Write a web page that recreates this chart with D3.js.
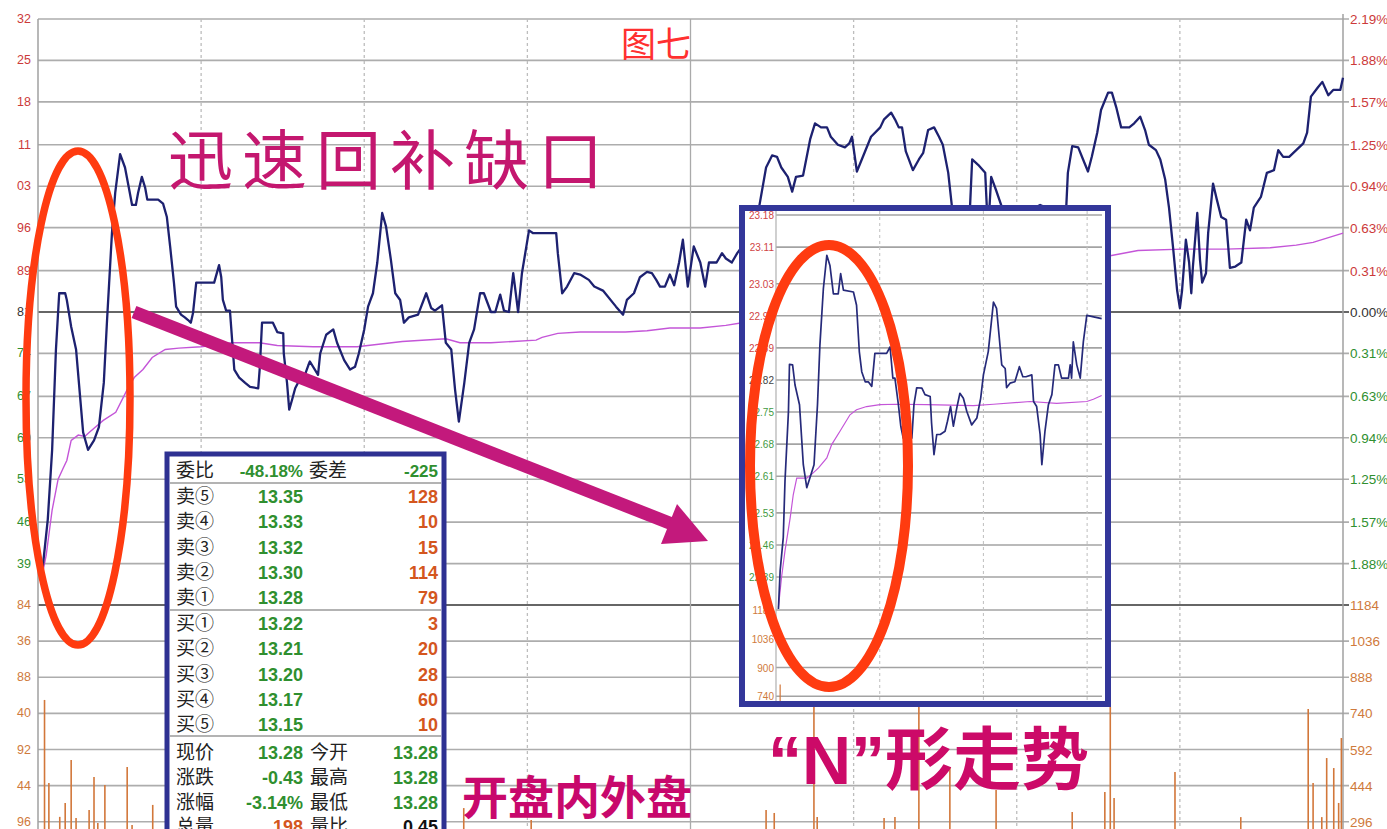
<!DOCTYPE html>
<html>
<head>
<meta charset="utf-8">
<script src="https://cdn.jsdelivr.net/npm/d3@7"></script>
<style>
  html, body { margin: 0; padding: 0; background: #fff; overflow: hidden; }
  svg { display: block; }
  text { font-family: "Liberation Sans", "Noto Sans CJK SC", sans-serif; }
  .cjk { font-family: "Noto Sans CJK SC", sans-serif; }
</style>
</head>
<body>
<svg width="1387" height="829"></svg>
<script>
// ---- chart data (minute of session, % change vs previous close) ----
var priceSeries = [
  [0.6,-2.00],[1.1,-1.82],[1.8,-1.55],[2.6,-1.03],[3.3,-0.28],[3.9,0.14],[5.0,0.14],[5.3,0.09],[6.1,-0.11],[7.0,-0.28],
  [8.3,-0.90],[9.2,-1.03],[10.3,-0.96],[11.2,-0.86],[12.1,-0.53],[12.7,-0.06],[13.6,0.59],[14.2,0.89],[15.1,1.18],[16.0,1.08],
  [16.7,0.93],[17.3,0.80],[18.0,0.80],[18.4,0.89],[19.1,1.01],[19.7,0.93],[20.1,0.84],[22.1,0.84],[23.0,0.81],[23.7,0.71],
  [24.3,0.49],[25.0,0.22],[25.4,0.04],[26.3,-0.02],[27.0,-0.04],[27.6,-0.06],[28.1,-0.08],[28.5,-0.01],[29.1,0.22],[32.4,0.22],
  [33.3,0.35],[33.7,0.26],[34.0,0.09],[34.6,0.01],[35.3,0.01],[35.7,-0.21],[36.1,-0.43],[37.0,-0.49],[38.1,-0.53],[39.0,-0.56],
  [40.5,-0.57],[40.8,-0.41],[41.2,-0.08],[43.2,-0.08],[44.0,-0.15],[45.1,-0.16],[45.2,-0.31],[45.8,-0.53],[46.2,-0.73],[46.7,-0.66],
  [47.3,-0.57],[47.8,-0.53],[48.9,-0.49],[49.7,-0.40],[50.0,-0.37],[51.5,-0.47],[51.9,-0.31],[53.0,-0.17],[54.3,-0.13],[55.0,-0.23],
  [56.3,-0.36],[57.4,-0.43],[58.3,-0.41],[59.0,-0.31],[60.0,-0.13],[60.7,0.04],[61.6,0.14],[62.4,0.37],[63.3,0.74],[64.0,0.64],
  [64.9,0.39],[65.7,0.14],[66.6,0.09],[67.3,-0.08],[68.2,-0.04],[69.9,-0.02],[71.4,0.14],[72.3,0.03],[73.0,0.01],[74.3,0.05],
  [75.0,-0.23],[76.0,-0.28],[76.7,-0.58],[77.4,-0.82],[78.4,-0.53],[79.3,-0.23],[80.2,-0.13],[81.3,0.14],[82.0,0.14],[83.3,0.00],
  [84.1,0.00],[85.0,0.13],[85.7,0.01],[86.6,0.00],[87.4,0.29],[88.3,0.00],[89.0,0.29],[90.3,0.61],[91.0,0.59],[95.3,0.59],
  [95.6,0.44],[96.4,0.14],[97.3,0.19],[98.6,0.29],[99.7,0.28],[101.3,0.24],[102.3,0.19],[103.9,0.16],[106.3,0.04],[107.6,-0.02],
  [108.3,0.09],[109.6,0.14],[110.7,0.26],[112.0,0.30],[112.9,0.29],[113.7,0.24],[114.4,0.19],[115.3,0.19],[116.2,0.28],[117.0,0.20],
  [117.9,0.37],[118.6,0.54],[119.5,0.19],[120.6,0.49],[121.8,0.37],
  [122.7,0.19],[123.4,0.37],[124.8,0.37],[125.8,0.44],[126.5,0.40],[127.6,0.37],[128.6,0.44],[129.5,0.49],[130.9,0.58],[132.6,0.78],
  [133.9,1.08],[135.0,1.17],[135.9,1.16],[136.7,1.08],[137.9,1.01],[138.7,0.90],[139.4,1.01],[140.7,1.02],[142.0,1.29],[142.9,1.41],
  [144.0,1.38],[145.1,1.38],[145.8,1.31],[147.1,1.25],[148.4,1.23],[149.2,1.26],[149.7,1.31],[150.6,1.05],[151.5,1.14],[153.2,1.31],
  [154.9,1.38],[155.6,1.44],[156.9,1.49],[157.6,1.44],[158.3,1.38],[158.9,1.38],[159.6,1.20],[160.9,1.06],[162.0,1.14],[162.8,1.19],
  [163.7,1.36],[164.8,1.38],[165.7,1.31],[166.4,1.25],[167.4,1.04],[168.1,0.78],[169.6,0.61],[171.4,0.78],[171.8,1.14],[172.9,1.10],
  [174.2,1.04],[174.5,0.78],[174.9,0.72],[175.3,1.01],[176.2,0.91],[177.3,0.78],[178.8,0.67],[182.4,0.76],[184.3,0.80],[185.4,0.78],
  [187.0,0.72],[189.1,0.78],[189.4,1.04],[190.2,1.24],[191.3,1.23],[192.2,1.14],[193.1,1.05],[193.8,1.16],[194.8,1.34],[195.5,1.51],
  [196.8,1.64],[197.5,1.64],[198.3,1.53],[199.2,1.38],[200.7,1.38],[201.6,1.41],[202.7,1.46],[203.6,1.36],[204.3,1.25],[205.6,1.21],
  [206.4,1.14],[207.3,0.99],[208.0,0.78],[208.8,0.46],[209.5,0.16],[210.0,0.03],[210.4,0.16],[210.8,0.37],[211.1,0.54],[211.7,0.37],
  [212.1,0.14],[212.4,0.34],[212.8,0.54],[213.2,0.74],[213.7,0.39],[214.1,0.22],[214.8,0.29],[215.2,0.59],[216.1,0.96],[216.8,0.84],
  [217.6,0.71],[218.5,0.69],[219.2,0.33],[220.2,0.34],[221.3,0.37],[222.2,0.69],[222.9,0.61],[223.6,0.78],[224.9,0.86],[226.0,1.04],
  [227.3,1.06],[228.1,1.21],[229.0,1.16],[230.1,1.16],[231.4,1.21],[232.7,1.26],[233.4,1.34],[234.1,1.61],[235.4,1.68],[236.2,1.72],
  [237.3,1.62],[238.2,1.66],[239.5,1.66],[240,1.75]
];
var avgSeries = [
  [0.6,-2.00],[1.5,-1.82],[2.6,-1.48],[3.7,-1.25],[4.6,-1.17],[5.3,-1.11],[6.1,-0.96],[7.4,-0.92],[8.6,-0.93],[9.4,-0.90],
  [12.0,-0.81],[14.3,-0.75],[16.4,-0.58],[17.7,-0.49],[19.3,-0.43],[21.0,-0.34],[23.4,-0.28],[25.9,-0.27],[30.0,-0.26],[35.7,-0.23],
  [40.7,-0.23],[44.0,-0.25],[50.6,-0.26],[58.7,-0.26],[67.0,-0.22],[75.0,-0.20],[77.6,-0.23],[79.3,-0.23],[83.3,-0.23],[87.4,-0.22],
  [91.6,-0.21],[92.7,-0.19],[95.6,-0.16],[99.7,-0.15],[103.9,-0.15],[108.0,-0.15],[112.0,-0.14],[116.2,-0.12],[121.8,-0.12],[126.5,-0.10],
  [129.5,-0.08],[158.5,0.16],[176.9,0.33],[188.0,0.40],[197.2,0.42],[202.3,0.46],[210.4,0.47],[218.5,0.47],[226.6,0.48],[231.4,0.50],
  [234.5,0.52],[240,0.59]
];
var volumeBars = [
  [1.2,795],[2.0,455],[4.0,316],[5.0,373],[6.1,549],[7.0,311],[9.4,344],[10.3,479],[11.0,291],[12.3,447],
  [16.4,520],[17.3,283],[21.1,365],[78.3,352],[90.7,303],[133.9,344],[135.4,332],[142.7,766],[143.3,315],[155.6,311],
  [157.6,315],[162.0,766],[167.7,520],[176.2,426],[190.2,336],[196.2,418],[197.2,766],[197.9,393],[209.1,500],[221.2,315],
  [233.6,758],[234.5,455],[236.1,315],[237.0,557],[238.3,516],[239.2,373],[239.7,639]
];

// axis tick labels
var pctTicks = [2.19,1.88,1.57,1.25,0.94,0.63,0.31,0,-0.31,-0.63,-0.94,-1.25,-1.57,-1.88];
var rightPctLabels = ["2.19%","1.88%","1.57%","1.25%","0.94%","0.63%","0.31%","0.00%","0.31%","0.63%","0.94%","1.25%","1.57%","1.88%"];
var leftPriceLabels = ["32","25","18","11","03","96","89","81","74","67","60","53","46","39"];
var volTicks = [1184,1036,888,740,592,444,296];
var rightVolLabels = ["1184","1036","888","740","592","444","296"];
var leftVolLabels = ["84","36","88","40","92","44","96"];
var timeTicks = [30,60,90,120,150,180,210];

// inset (zoomed early session)
var insetPrice = [
  [0.7,22.320],[1.2,22.404],[2.1,22.476],[2.6,22.599],[3.6,22.751],[3.9,22.854],[4.8,22.853],[5.5,22.809],[6.8,22.766],[7.9,22.635],
  [8.9,22.585],[9.8,22.606],[11.0,22.635],[12.0,22.766],[12.7,22.896],[13.7,23.019],[14.7,23.092],[15.6,23.070],[16.6,23.008],[18.0,23.008],
  [18.7,23.052],[19.5,23.016],[22.4,23.012],[23.3,22.983],[24.1,22.882],[24.8,22.838],[25.8,22.816],[26.7,22.816],[27.7,22.806],[28.6,22.878],
  [32.0,22.878],[33.0,22.892],[33.8,22.824],[34.4,22.824],[35.4,22.766],[36.1,22.719],[36.8,22.693],[39.3,22.693],[39.9,22.766],[40.7,22.803],
  [42.2,22.802],[43.1,22.788],[44.6,22.784],[45.0,22.726],[45.7,22.657],[46.5,22.701],[47.5,22.701],[48.9,22.708],[49.6,22.730],[50.5,22.762],
  [51.3,22.719],[52.3,22.759],[53.2,22.791],[54.2,22.780],[55.2,22.751],[56.6,22.722],[58.1,22.737],[59.2,22.780],[60.0,22.831],[61.4,22.882],
  [62.9,22.990],[63.8,22.976],[64.6,22.911],[65.3,22.853],[66.3,22.845],[66.7,22.803],[67.7,22.813],[69.1,22.816],[70.4,22.849],[71.4,22.827],
  [72.3,22.827],[74.0,22.831],[74.5,22.773],[75.4,22.762],[76.4,22.701],[76.9,22.635],[77.8,22.708],[78.8,22.766],[79.8,22.788],[80.7,22.853],
  [81.7,22.853],[82.6,22.824],[84.6,22.824],[85.1,22.853],[85.5,22.824],[86.0,22.903],[87.0,22.853],[88.0,22.824],[88.9,22.903],[89.9,22.961],
  [94.2,22.954]
];
var insetAvg = [
  [0.7,22.324],[1.6,22.389],[2.6,22.447],[4.1,22.519],[5.0,22.570],[6.0,22.606],[8.9,22.606],[10.3,22.614],[12.3,22.628],[14.7,22.650],
  [16.1,22.679],[18.5,22.708],[21.4,22.744],[23.3,22.755],[26.2,22.762],[30.1,22.766],[34.9,22.767],[43.6,22.766],[57.1,22.764],[62.9,22.767],
  [73.5,22.773],[81.2,22.769],[89.9,22.773],[91.8,22.778],[94.2,22.786]
];
var insetVolume = [[1.2,800]];
var insetPriceTicks = ["23.18","23.11","23.03","22.96","22.89","22.82","22.75","22.68","22.61","22.53","22.46","22.39"];
var insetVolTicks = [1184,1036,888,740];
var insetVolLabels = ["1184","1036","900","740"];

// order book panel
var bookHeader = ["委比", "-48.18%", "委差", "-225"];
var sellNames = ["卖⑤","卖④","卖③","卖②","卖①"];
var sellPrices = ["13.35","13.33","13.32","13.30","13.28"];
var sellVols = [128,10,15,114,79];
var buyNames = ["买①","买②","买③","买④","买⑤"];
var buyPrices = ["13.22","13.21","13.20","13.17","13.15"];
var buyVols = [3,20,28,60,10];
var statNames = ["现价","涨跌","涨幅","总量"];
var statValues = ["13.28","-0.43","-3.14%","198"];
var statNames2 = ["今开","最高","最低","量比"];
var statValues2 = ["13.28","13.28","13.28","0.45"];

// ---- drawing ----
var svg = d3.select("svg");
var RED = "#cc3a3a", GREEN = "#2f8f2f", ORANGE = "#cf7a3c", DARK = "#333";

var x = d3.scaleLinear().domain([0, 240]).range([38, 1343]);
var yP = d3.scaleLinear().domain([-2.19, 2.19]).range([605, 19]);
var yV = d3.scaleLinear().domain([0, 1184]).range([894, 605]);

function pctColor(v) { return v > 0 ? RED : (v < 0 ? GREEN : DARK); }

var grid = svg.append("g");
// horizontal grid
grid.selectAll("line.hp").data(pctTicks).enter().append("line")
  .attr("x1", 38).attr("x2", 1349)
  .attr("y1", function(d) { return yP(d); }).attr("y2", function(d) { return yP(d); })
  .attr("stroke", function(d) { return d === 0 ? "#666" : "#adadad"; })
  .attr("stroke-width", function(d) { return d === 0 ? 2.2 : 1.7; });
grid.selectAll("line.hv").data(volTicks).enter().append("line")
  .attr("x1", 38).attr("x2", 1349)
  .attr("y1", function(d) { return yV(d); }).attr("y2", function(d) { return yV(d); })
  .attr("stroke", function(d, i) { return i === 0 ? "#666" : "#adadad"; })
  .attr("stroke-width", function(d, i) { return i === 0 ? 2.2 : 1.7; });
// vertical grid
grid.selectAll("line.vt").data(timeTicks).enter().append("line")
  .attr("x1", function(d) { return x(d); }).attr("x2", function(d) { return x(d); })
  .attr("y1", 19).attr("y2", 829)
  .attr("stroke", function(d) { return d === 120 ? "#aaa" : "#bdbdbd"; })
  .attr("stroke-width", 1.3)
  .attr("stroke-dasharray", function(d) { return d === 120 ? null : "3,3"; });
// frame
grid.append("line").attr("x1", 38).attr("x2", 38).attr("y1", 19).attr("y2", 829).attr("stroke", "#a0a0a0").attr("stroke-width", 1.5);
grid.append("line").attr("x1", 1343).attr("x2", 1343).attr("y1", 14).attr("y2", 829).attr("stroke", "#a0a0a0").attr("stroke-width", 1.5);

// axis labels
var lab = svg.append("g").attr("font-size", 12.5);
lab.selectAll("text.l").data(pctTicks).enter().append("text")
  .attr("x", 31).attr("y", function(d) { return yP(d) + 4; })
  .attr("text-anchor", "end").attr("fill", pctColor)
  .text(function(d, i) { return leftPriceLabels[i]; });
lab.selectAll("text.lv").data(volTicks).enter().append("text")
  .attr("x", 31).attr("y", function(d) { return yV(d) + 4; })
  .attr("text-anchor", "end").attr("fill", ORANGE)
  .text(function(d, i) { return leftVolLabels[i]; });
lab.selectAll("text.r").data(pctTicks).enter().append("text")
  .attr("x", 1350).attr("y", function(d) { return yP(d) + 5; })
  .attr("fill", pctColor).attr("font-size", 13.5)
  .text(function(d, i) { return rightPctLabels[i]; });
lab.selectAll("text.rv").data(volTicks).enter().append("text")
  .attr("x", 1350).attr("y", function(d) { return yV(d) + 5; })
  .attr("fill", ORANGE).attr("font-size", 13.5)
  .text(function(d, i) { return rightVolLabels[i]; });

// volume bars
svg.append("g").selectAll("line").data(volumeBars).enter().append("line")
  .attr("x1", function(d) { return x(d[0]); }).attr("x2", function(d) { return x(d[0]); })
  .attr("y1", function(d) { return yV(d[1]); }).attr("y2", yV(0))
  .attr("stroke", "#d2773a").attr("stroke-width", 1.6);

var line = d3.line().x(function(d) { return x(d[0]); }).y(function(d) { return yP(d[1]); });
svg.append("path").datum(avgSeries).attr("d", line)
  .attr("fill", "none").attr("stroke", "#c455d8").attr("stroke-width", 1.4);
svg.append("path").datum(priceSeries).attr("d", line)
  .attr("fill", "none").attr("stroke", "#1d2170").attr("stroke-width", 2.3).attr("stroke-linejoin", "round");

// ---- order book panel ----
var book = svg.append("g");
book.append("rect").attr("x", 167).attr("y", 454).attr("width", 277).attr("height", 420)
  .attr("fill", "#fff").attr("stroke", "#2e3192").attr("stroke-width", 5);
[483, 610, 736].forEach(function(yy) {
  book.append("line").attr("x1", 170).attr("x2", 441).attr("y1", yy).attr("y2", yy)
    .attr("stroke", "#9a9a9a").attr("stroke-width", 1.6);
});
var bookRows = d3.scaleLinear().domain([0, 1]).range([0, 25.3]);
function bookText(xx, yy, txt, color, anchor, cls, weight, size) {
  book.append("text").attr("x", xx).attr("y", yy).attr("fill", color)
    .attr("text-anchor", anchor).attr("class", cls || null)
    .attr("font-weight", weight || "normal").attr("font-size", size || 18)
    .text(txt);
}
bookText(176, 477, bookHeader[0], "#222", "start", "cjk", "normal", 19);
bookText(303, 477, bookHeader[1], GREEN, "end", null, "bold", 17);
bookText(309, 477, bookHeader[2], "#222", "start", "cjk", "normal", 19);
bookText(438, 477, bookHeader[3], GREEN, "end", null, "bold", 17);
sellNames.forEach(function(n, i) {
  var yy = 503 + bookRows(i);
  bookText(176, yy, n, "#222", "start", "cjk", "normal", 19);
  bookText(303, yy, sellPrices[i], GREEN, "end", null, "bold", 18);
  bookText(438, yy, sellVols[i], "#d4561e", "end", null, "bold", 18);
});
buyNames.forEach(function(n, i) {
  var yy = 630 + bookRows(i);
  bookText(176, yy, n, "#222", "start", "cjk", "normal", 19);
  bookText(303, yy, buyPrices[i], GREEN, "end", null, "bold", 18);
  bookText(438, yy, buyVols[i], "#d4561e", "end", null, "bold", 18);
});
statNames.forEach(function(n, i) {
  var yy = 759 + bookRows(i) * 0.98;
  bookText(176, yy, n, "#222", "start", "cjk", "normal", 19);
  bookText(303, yy, statValues[i], n === "总量" ? "#d4561e" : GREEN, "end", null, "bold", 18);
  bookText(310, yy, statNames2[i], "#222", "start", "cjk", "normal", 19);
  bookText(438, yy, statValues2[i], n === "总量" ? "#111" : GREEN, "end", null, "bold", 18);
});

// ---- inset chart ----
var inset = svg.append("g");
var ix = d3.scaleLinear().domain([0, 94.3]).range([776, 1102]);
var iy = d3.scaleLinear().domain([22.318, 23.18]).range([610, 215]);
var iv = d3.scaleLinear().domain([0, 1184]).range([840, 610]);
inset.append("rect").attr("x", 742).attr("y", 208).attr("width", 366).attr("height", 496)
  .attr("fill", "#fff").attr("stroke", "none");
svg.append("defs").append("clipPath").attr("id", "insetClip")
  .append("rect").attr("x", 745).attr("y", 211).attr("width", 360).attr("height", 490);
var ig = inset.append("g").attr("clip-path", "url(#insetClip)");
ig.selectAll("line.ih").data(insetPriceTicks).enter().append("line")
  .attr("x1", 776).attr("x2", 1102)
  .attr("y1", function(d) { return iy(+d); }).attr("y2", function(d) { return iy(+d); })
  .attr("stroke", "#a3a3a3").attr("stroke-width", 1.6);
ig.selectAll("line.iv").data(insetVolTicks).enter().append("line")
  .attr("x1", 776).attr("x2", 1102)
  .attr("y1", function(d) { return iv(d); }).attr("y2", function(d) { return iv(d); })
  .attr("stroke", "#a3a3a3").attr("stroke-width", 1.6);
ig.selectAll("line.it").data([30, 60, 90]).enter().append("line")
  .attr("x1", function(d) { return ix(d); }).attr("x2", function(d) { return ix(d); })
  .attr("y1", 211).attr("y2", 701)
  .attr("stroke", "#c4c4c4").attr("stroke-width", 1.1).attr("stroke-dasharray", "3,3");
ig.append("line").attr("x1", 776).attr("x2", 776).attr("y1", 211).attr("y2", 701)
  .attr("stroke", "#b0b0b0").attr("stroke-width", 1.2);
ig.selectAll("text.il").data(insetPriceTicks).enter().append("text")
  .attr("x", 774).attr("y", function(d) { return iy(+d) + 4; })
  .attr("text-anchor", "end").attr("font-size", 10)
  .attr("fill", function(d) { return +d > 22.83 ? "#d04545" : (+d > 22.81 ? "#444" : "#3f9a3f"); })
  .text(function(d) { return d; });
ig.selectAll("text.ivl").data(insetVolTicks).enter().append("text")
  .attr("x", 774).attr("y", function(d) { return iv(d) + 4; })
  .attr("text-anchor", "end").attr("font-size", 10).attr("fill", ORANGE)
  .text(function(d, i) { return insetVolLabels[i]; });
ig.selectAll("line.ivb").data(insetVolume).enter().append("line")
  .attr("x1", function(d) { return ix(d[0]); }).attr("x2", function(d) { return ix(d[0]); })
  .attr("y1", function(d) { return iv(d[1]); }).attr("y2", iv(0))
  .attr("stroke", "#d2773a").attr("stroke-width", 1.2);
var iline = d3.line().x(function(d) { return ix(d[0]); }).y(function(d) { return iy(d[1]); });
ig.append("path").datum(insetAvg).attr("d", iline)
  .attr("fill", "none").attr("stroke", "#c455d8").attr("stroke-width", 1.2);
ig.append("path").datum(insetPrice).attr("d", iline)
  .attr("fill", "none").attr("stroke", "#262a7a").attr("stroke-width", 1.7).attr("stroke-linejoin", "round");
inset.append("rect").attr("x", 742).attr("y", 208).attr("width", 366).attr("height", 496)
  .attr("fill", "none").attr("stroke", "#33379a").attr("stroke-width", 6);

// ---- annotations ----
var ann = svg.append("g");
ann.append("ellipse").attr("cx", 78).attr("cy", 398).attr("rx", 52).attr("ry", 247)
  .attr("fill", "none").attr("stroke", "#ff3b10").attr("stroke-width", 7.5);
ann.append("ellipse").attr("cx", 829).attr("cy", 466).attr("rx", 79).attr("ry", 221)
  .attr("fill", "none").attr("stroke", "#ff3b10").attr("stroke-width", 10);

ann.append("line").attr("x1", 134).attr("y1", 312).attr("x2", 672).attr("y2", 524)
  .attr("stroke", "#c3197c").attr("stroke-width", 13);
ann.append("polygon").attr("points", "708,541 677,504 661,544").attr("fill", "#c3197c");

ann.append("text").attr("class", "cjk").attr("x", 656).attr("y", 57)
  .attr("text-anchor", "middle").attr("font-size", 35).attr("fill", "#ff3030").text("图七");
ann.append("text").attr("class", "cjk").attr("x", 168).attr("y", 184)
  .attr("font-size", 65).attr("letter-spacing", 9).attr("font-weight", "normal")
  .attr("fill", "#c4176f").text("迅速回补缺口");
var nText = ann.append("text").attr("x", 768).attr("y", 784)
  .attr("font-size", 68).attr("font-weight", "bold").attr("fill", "#cc0a68");
nText.append("tspan").attr("font-family", "Liberation Sans, sans-serif").text("“N”");
nText.append("tspan").attr("class", "cjk").text("形走势");
ann.append("text").attr("class", "cjk").attr("x", 462).attr("y", 814)
  .attr("font-size", 46).attr("font-weight", "bold")
  .attr("fill", "#c8086c").text("开盘内外盘");
</script>
</body>
</html>
